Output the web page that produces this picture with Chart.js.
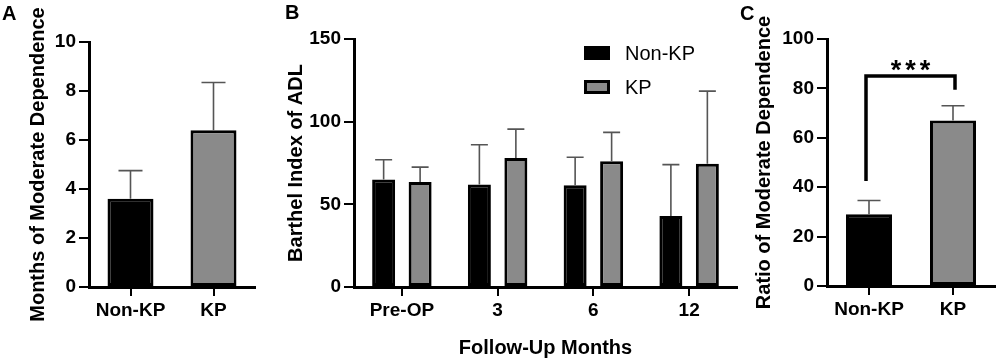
<!DOCTYPE html>
<html>
<head>
<meta charset="utf-8">
<script src="https://cdn.jsdelivr.net/npm/chart.js@4"></script>
<style>
  body { margin: 0; background: #fff; }
  #wrap { position: relative; width: 997px; height: 362px; font-family: Arial, "Liberation Sans", sans-serif; }
  .panel { position: absolute; top: 0; }
  .letter { position: absolute; font-weight: bold; font-size: 20px; line-height: 1; color: #000; }
  #legend { position: absolute; left: 584px; top: 36px; font-size: 20px; color: #000; }
  .leg-row { display: flex; align-items: center; height: 34px; }
  .leg-box { width: 26px; height: 14px; box-sizing: border-box; border: 3px solid #000; margin-right: 15px; }
</style>
</head>
<body>
<div id="wrap">
  <canvas id="graf-a" class="panel" style="left:0px" width="262" height="362"></canvas>
  <canvas id="graf-b" class="panel" style="left:262px" width="478" height="362"></canvas>
  <canvas id="graf-c" class="panel" style="left:740px" width="257" height="362"></canvas>
  <div class="letter" style="left:2px;top:3px">A</div>
  <div class="letter" style="left:285px;top:2px">B</div>
  <div class="letter" style="left:740px;top:3px">C</div>
  <div id="legend"></div>
</div>
<script>
// dados
const grupos = ["Non-KP", "KP"];
const meses = ["Pre-OP", "3", "6", "12"];

// A - meses de dependencia moderada
const mesesMedia = [3.6, 6.4];
const mesesErro = [1.15, 1.95];

// B - Barthel por mes de seguimento
const barthelNonKP = [65, 62, 61.5, 43];
const barthelNonKPErro = [12, 24, 17, 31];
const barthelKP = [63.5, 78, 76, 74.5];
const barthelKPErro = [9, 17.5, 17.5, 44];

// C - proporcao de dependencia moderada
const ratioMedia = [29, 67];
const ratioErro = [5.6, 6];
const sigTopo = 85, sigEsq = 42.5, sigDir = 79.5, sigTexto = "***";

const preto = "#000000";
const cinza = "#8a8a8a";
const corErro = "#555555";

Chart.defaults.font.family = "Arial, 'Liberation Sans', sans-serif";
Chart.defaults.color = "#000";
Chart.defaults.animation = false;

// barras de erro (so para cima)
const errorBars = {
  id: "errorBars",
  afterDatasetsDraw(chart, args, opts) {
    const ctx = chart.ctx;
    const y = chart.scales.y;
    ctx.save();
    ctx.strokeStyle = corErro;
    ctx.lineWidth = 1.6;
    chart.data.datasets.forEach((ds, i) => {
      const meta = chart.getDatasetMeta(i);
      meta.data.forEach((bar, j) => {
        const top = y.getPixelForValue(ds.data[j] + ds.erros[j]);
        const base = y.getPixelForValue(ds.data[j]);
        ctx.beginPath();
        ctx.moveTo(bar.x, base);
        ctx.lineTo(bar.x, top);
        ctx.moveTo(bar.x - opts.cap / 2, top);
        ctx.lineTo(bar.x + opts.cap / 2, top);
        ctx.stroke();
      });
    });
    ctx.restore();
  }
};

// colchete de significancia
const sigBracket = {
  id: "sigBracket",
  afterDatasetsDraw(chart) {
    if (!chart.options.plugins.sigBracket) return;
    const ctx = chart.ctx;
    const y = chart.scales.y;
    const bars = chart.getDatasetMeta(0).data;
    const x1 = bars[0].x - 3, x2 = bars[1].x + 2;
    const yt = y.getPixelForValue(sigTopo);
    ctx.save();
    ctx.strokeStyle = "#000";
    ctx.lineWidth = 3.5;
    ctx.lineCap = "butt";
    ctx.lineJoin = "miter";
    ctx.beginPath();
    ctx.moveTo(x1, y.getPixelForValue(sigEsq));
    ctx.lineTo(x1, yt);
    ctx.lineTo(x2, yt);
    ctx.lineTo(x2, y.getPixelForValue(sigDir));
    ctx.stroke();
    ctx.font = "bold 27px Arial, 'Liberation Sans', sans-serif";
    ctx.letterSpacing = "4px";
    ctx.textAlign = "center";
    ctx.textBaseline = "alphabetic";
    ctx.fillStyle = "#000";
    ctx.fillText(sigTexto, (x1 + x2) / 2 + 2, yt + 3);
    ctx.restore();
  }
};

function eixos(cfg) {
  return {
    x: {
      offset: true,
      afterFit: s => { s.height = 75; },
      grid: { offset: false, drawOnChartArea: false, drawTicks: true, tickLength: 9, color: "#000", lineWidth: 2 },
      border: { color: "#000", width: 3 },
      ticks: { font: { size: 19, weight: "bold" }, padding: 3, maxRotation: 0 },
      title: cfg.xTitle ? { display: true, text: cfg.xTitle, font: { size: 20, weight: "bold" }, padding: { top: 0, bottom: 2 } } : { display: false }
    },
    y: {
      min: 0, max: cfg.max,
      afterFit: s => { s.width = cfg.yWidth; },
      grid: { drawOnChartArea: false, drawTicks: true, tickLength: 10, color: "#000", lineWidth: 2 },
      border: { color: "#000", width: 3 },
      ticks: { stepSize: cfg.step, font: { size: 19, weight: "bold" }, padding: 3 },
      title: { display: true, text: cfg.yTitle, font: { size: 20, weight: "bold" }, padding: { top: cfg.titlePad, bottom: 0 } }
    }
  };
}

const barraBase = { borderColor: preto, borderWidth: 3, borderSkipped: false };

// A
new Chart(document.getElementById("graf-a"), {
  type: "bar",
  data: {
    labels: grupos,
    datasets: [{
      ...barraBase,
      data: mesesMedia,
      erros: mesesErro,
      backgroundColor: [preto, cinza],
      categoryPercentage: 1,
      barPercentage: 0.554
    }]
  },
  options: {
    responsive: false,
    layout: { padding: { left: 0, right: 7, top: 42, bottom: 0 } },
    plugins: { legend: { display: false }, tooltip: { enabled: false }, errorBars: { cap: 24 } },
    scales: eixos({ max: 10, step: 2, yTitle: "Months of Moderate Dependence", yWidth: 89, titlePad: 26 })
  },
  plugins: [errorBars]
});

// B
new Chart(document.getElementById("graf-b"), {
  type: "bar",
  data: {
    labels: meses,
    datasets: [
      { ...barraBase, label: grupos[0], data: barthelNonKP, erros: barthelNonKPErro, backgroundColor: preto, categoryPercentage: 0.762, barPercentage: 0.63 },
      { ...barraBase, label: grupos[1], data: barthelKP, erros: barthelKPErro, backgroundColor: cinza, categoryPercentage: 0.762, barPercentage: 0.63 }
    ]
  },
  options: {
    responsive: false,
    layout: { padding: { left: 0, right: 3, top: 39, bottom: 0 } },
    plugins: { legend: { display: false }, tooltip: { enabled: false }, errorBars: { cap: 17 } },
    scales: eixos({ max: 150, step: 50, yTitle: "Barthel Index of ADL", xTitle: "Follow-Up Months", yWidth: 92, titlePad: 22 })
  },
  plugins: [errorBars]
});

// C
new Chart(document.getElementById("graf-c"), {
  type: "bar",
  data: {
    labels: grupos,
    datasets: [{
      ...barraBase,
      data: ratioMedia,
      erros: ratioErro,
      backgroundColor: [preto, cinza],
      categoryPercentage: 1,
      barPercentage: 0.548
    }]
  },
  options: {
    responsive: false,
    layout: { padding: { left: 0, right: 2, top: 39, bottom: 1 } },
    plugins: { legend: { display: false }, tooltip: { enabled: false }, errorBars: { cap: 23 }, sigBracket: true },
    scales: eixos({ max: 100, step: 20, yTitle: "Ratio of Moderate Dependence", yWidth: 87, titlePad: 12 })
  },
  plugins: [errorBars, sigBracket]
});

// legenda
const legenda = document.getElementById("legend");
[preto, cinza].forEach((cor, i) => {
  const row = document.createElement("div");
  row.className = "leg-row";
  const box = document.createElement("span");
  box.className = "leg-box";
  box.style.background = cor;
  const txt = document.createElement("span");
  txt.textContent = grupos[i];
  row.appendChild(box);
  row.appendChild(txt);
  legenda.appendChild(row);
});
</script>
</body>
</html>
